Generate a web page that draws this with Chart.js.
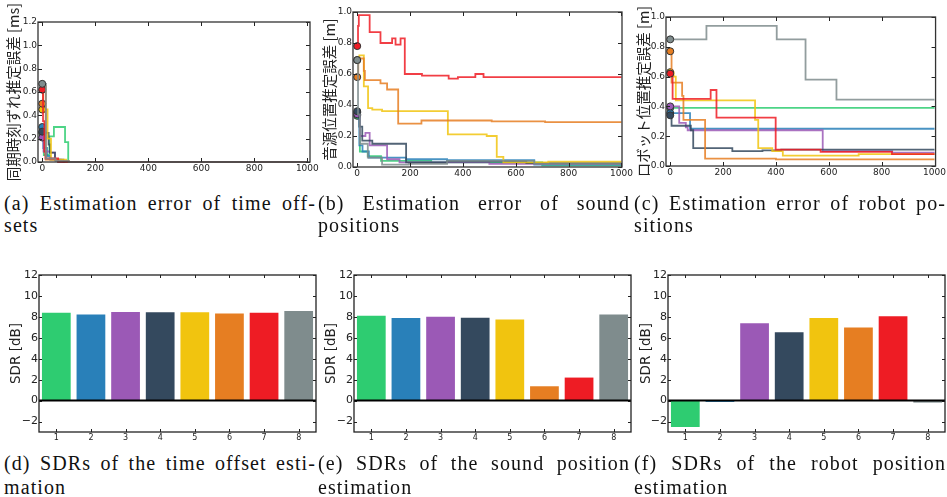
<!DOCTYPE html>
<html>
<head>
<meta charset="utf-8">
<script src="https://cdn.jsdelivr.net/npm/chart.js@4"></script>
<style>
  body { margin: 0; background: #fff; width: 947px; height: 497px; overflow: hidden; position: relative; }
  canvas { position: absolute; }
  .cap { position: absolute; font-family: "Liberation Serif", "DejaVu Serif", serif; font-size: 20px; letter-spacing: 1.1px; color: #111; line-height: 22px; }
  .cap.l1 { width: 312px; text-align: justify; text-align-last: justify; }
  .cap.l2 { white-space: nowrap; }
</style>
</head>
<body>
<canvas id="chartA" width="330" height="185" style="left:0;top:0"></canvas>
<canvas id="chartB" width="330" height="185" style="left:315px;top:0"></canvas>
<canvas id="chartC" width="317" height="185" style="left:630px;top:0"></canvas>
<canvas id="chartD" width="320" height="185" style="left:0;top:260px"></canvas>
<canvas id="chartE" width="320" height="185" style="left:315px;top:260px"></canvas>
<canvas id="chartF" width="317" height="185" style="left:630px;top:260px"></canvas>

<div class="cap l1" style="left:4px;top:192px">(a) Estimation error of time off-</div>
<div class="cap l2" style="left:4px;top:214px">sets</div>
<div class="cap l1" style="left:318px;top:192px">(b) Estimation error of sound</div>
<div class="cap l2" style="left:318px;top:214px">positions</div>
<div class="cap l1" style="left:634px;top:192px">(c) Estimation error of robot po-</div>
<div class="cap l2" style="left:634px;top:214px">sitions</div>
<div class="cap l1" style="left:4px;top:452px">(d) SDRs of the time offset esti-</div>
<div class="cap l2" style="left:4px;top:476px">mation</div>
<div class="cap l1" style="left:318px;top:452px">(e) SDRs of the sound position</div>
<div class="cap l2" style="left:318px;top:476px">estimation</div>
<div class="cap l1" style="left:634px;top:452px">(f) SDRs of the robot position</div>
<div class="cap l2" style="left:634px;top:476px">estimation</div>

<script>
// --- Data ---
const SERIES_COLORS = ['#2ecc71', '#2980b9', '#9b59b6', '#34495e', '#f1c40f', '#e67e22', '#ee1c24', '#7f8c8d'];
const BAR_LABELS = ['1', '2', '3', '4', '5', '6', '7', '8'];
const ITER_TICKS = [0, 200, 400, 600, 800, 1000];

const sdrTimeOffset = [8.39, 8.23, 8.46, 8.43, 8.43, 8.33, 8.39, 8.55];
const sdrSoundPos = [8.10, 7.88, 8.01, 7.92, 7.76, 1.37, 2.20, 8.23];
const sdrRobotPos = [-2.52, -0.13, 7.40, 6.54, 7.88, 6.99, 8.07, -0.19];

// step series: [iteration where the value changes, new value]
const offsetGreen = [[0, 0.25], [6, 0.06], [27, 0.22], [44, 0.30], [86, 0.17], [98, 0.0], [1000, 0.0]];
const offsetBlue = [[0, 0.30], [4, 0.12], [18, 0.05], [30, 0.02], [60, 0.0], [1000, 0.0]];
const offsetPurple = [[0, 0.21], [5, 0.09], [29, 0.08], [48, 0.02], [70, 0.0], [1000, 0.0]];
const offsetDark = [[0, 0.26], [12, 0.25], [24, 0.15], [29, 0.08], [48, 0.02], [80, 0.0], [1000, 0.0]];
const offsetYellow = [[0, 0.45], [20, 0.20], [33, 0.02], [90, 0.0], [1000, 0.0]];
const offsetOrange = [[0, 0.50], [3, 0.65], [13, 0.02], [60, 0.01], [100, 0.0], [1000, 0.0]];
const offsetRed = [[0, 0.62], [3, 0.35], [8, 0.09], [12, 0.03], [60, 0.0], [1000, 0.0]];
const offsetGray = [[0, 0.67], [14, 0.03], [50, 0.01], [100, 0.0], [1000, 0.0]];

const soundGreen = [[0, 0.33], [10, 0.10], [40, 0.07], [90, 0.04], [280, 0.03], [700, 0.01], [1000, 0.01]];
const soundBlue = [[0, 0.35], [8, 0.14], [20, 0.10], [44, 0.06], [185, 0.05], [340, 0.045], [670, 0.015], [1000, 0.015]];
const soundPurple = [[0, 0.34], [10, 0.20], [31, 0.22], [47, 0.14], [113, 0.05], [160, 0.03], [500, 0.02], [1000, 0.02]];
const soundDark = [[0, 0.36], [8, 0.26], [19, 0.17], [57, 0.15], [185, 0.03], [340, 0.035], [640, 0.025], [1000, 0.025]];
const soundYellow = [[0, 0.69], [8, 0.72], [25, 0.52], [41, 0.38], [57, 0.37], [94, 0.36], [343, 0.21], [490, 0.20], [528, 0.065], [553, 0.03], [723, 0.035], [1000, 0.035]];
const soundOrange = [[0, 0.58], [4, 0.70], [25, 0.62], [29, 0.56], [88, 0.54], [113, 0.50], [155, 0.28], [243, 0.30], [509, 0.295], [711, 0.29], [1000, 0.29]];
const soundRed = [[0, 0.78], [3, 0.91], [6, 0.98], [47, 0.87], [88, 0.80], [132, 0.83], [145, 0.79], [164, 0.83], [180, 0.60], [245, 0.59], [346, 0.57], [381, 0.58], [447, 0.60], [478, 0.58], [1000, 0.58]];
const soundGray = [[0, 0.69], [3, 0.34], [10, 0.15], [40, 0.06], [94, 0.015], [195, 0.02], [340, 0.04], [670, 0.02], [1000, 0.02]];

const robotGreen = [[0, 0.39], [1000, 0.39]];
const robotBlue = [[0, 0.355], [75, 0.25], [1000, 0.25]];
const robotPurple = [[0, 0.40], [34, 0.29], [59, 0.26], [66, 0.24], [577, 0.10], [840, 0.09], [1000, 0.09]];
const robotDark = [[0, 0.34], [5, 0.27], [78, 0.24], [87, 0.12], [235, 0.10], [349, 0.105], [420, 0.11], [1000, 0.11]];
const robotYellow = [[0, 0.63], [13, 0.60], [21, 0.44], [321, 0.31], [333, 0.12], [386, 0.10], [426, 0.07], [713, 0.08], [1000, 0.08]];
const robotOrange = [[0, 0.77], [5, 0.56], [45, 0.47], [50, 0.31], [132, 0.05], [400, 0.045], [1000, 0.045]];
const robotRed = [[0, 0.62], [9, 0.45], [153, 0.51], [175, 0.325], [399, 0.11], [569, 0.095], [839, 0.08], [1000, 0.08]];
const robotGray = [[0, 0.85], [137, 0.94], [403, 0.85], [512, 0.58], [629, 0.445], [1000, 0.445]];

const offsetSeries = [offsetGreen, offsetBlue, offsetPurple, offsetDark, offsetYellow, offsetOrange, offsetRed, offsetGray];
const soundSeries = [soundGreen, soundBlue, soundPurple, soundDark, soundYellow, soundOrange, soundRed, soundGray];
const robotSeries = [robotGreen, robotBlue, robotPurple, robotDark, robotYellow, robotOrange, robotRed, robotGray];

// --- Helpers ---
function withAlpha(hex, a) {
    const n = parseInt(hex.slice(1), 16);
    return `rgba(${n >> 16},${(n >> 8) & 255},${n & 255},${a})`;
}

// frame + inward tick marks like the classic matplotlib look
const frameTicks = {
    id: 'frameTicks',
    afterDatasetsDraw(chart, args, opts) {
        const { ctx, chartArea: a } = chart;
        const { x, y } = chart.scales;
        const len = opts.len || 4;
        ctx.save();
        ctx.strokeStyle = '#222';
        ctx.lineWidth = 1;
        ctx.beginPath();
        x.ticks.forEach((t, i) => {
            const px = Math.round(x.getPixelForTick(i)) + 0.5;
            ctx.moveTo(px, a.bottom); ctx.lineTo(px, a.bottom - len);
            ctx.moveTo(px, a.top); ctx.lineTo(px, a.top + len);
        });
        y.ticks.forEach((t, i) => {
            const py = Math.round(y.getPixelForTick(i)) + 0.5;
            ctx.moveTo(a.left, py); ctx.lineTo(a.left + len, py);
            ctx.moveTo(a.right, py); ctx.lineTo(a.right - len, py);
        });
        ctx.stroke();
        if (opts.zero) {
            const py = y.getPixelForValue(0);
            ctx.strokeStyle = '#000';
            ctx.lineWidth = 2;
            ctx.beginPath(); ctx.moveTo(a.left, py); ctx.lineTo(a.right, py); ctx.stroke();
        }
        ctx.strokeStyle = opts.frameColor || '#333';
        ctx.lineWidth = 1.3;
        ctx.strokeRect(a.left, a.top, a.right - a.left, a.bottom - a.top);
        ctx.restore();
    }
};
Chart.register(frameTicks);

const TICK_FONT = { family: 'DejaVu Sans', size: 9 };

function stepDatasets(series) {
    return series.map((pts, i) => ({
        data: pts.map(([x, y]) => ({ x, y })),
        order: series.length - i, // later series drawn on top, as in the original
        stepped: 'before',
        borderColor: withAlpha(SERIES_COLORS[i], 0.85),
        borderWidth: 1.8,
        pointRadius: c => c.dataIndex === 0 ? 3.5 : 0,
        pointHoverRadius: 0,
        pointBackgroundColor: SERIES_COLORS[i],
        pointBorderColor: '#333',
        pointBorderWidth: 1,
        clip: false
    }));
}

function renderStepChart(id, series, cfg) {
    new Chart(document.getElementById(id), {
        type: 'line',
        data: { datasets: stepDatasets(series) },
        options: {
            responsive: false,
            animation: false,
            events: [],
            layout: { padding: { top: cfg.top, right: cfg.right, left: 0, bottom: 0 } },
            plugins: { legend: { display: false }, tooltip: { enabled: false }, frameTicks: { len: 4 } },
            scales: {
                x: {
                    type: 'linear', min: cfg.xMin, max: cfg.xMax,
                    afterFit: s => { s.height = cfg.xH; },
                    afterBuildTicks: s => { s.ticks = ITER_TICKS.map(v => ({ value: v })); },
                    grid: { display: false, drawTicks: false }, border: { display: false },
                    ticks: { padding: 1, maxRotation: 0, autoSkip: false, font: TICK_FONT, color: '#222', callback: v => String(v) }
                },
                y: {
                    min: 0, max: cfg.yMax,
                    afterFit: s => { s.width = cfg.yW; },
                    grid: { display: false, drawTicks: false }, border: { display: false },
                    ticks: { stepSize: 0.2, padding: 1, font: TICK_FONT, color: '#222', callback: v => v.toFixed(1) },
                    title: {
                        display: true, text: cfg.title, color: '#222',
                        font: { family: 'Noto Sans CJK JP', size: 14.5 },
                        padding: { top: cfg.titlePad, bottom: 0 }
                    }
                }
            }
        }
    });
}

function renderSdrChart(id, values, cfg) {
    new Chart(document.getElementById(id), {
        type: 'bar',
        data: {
            labels: BAR_LABELS,
            datasets: [{ data: values, backgroundColor: SERIES_COLORS, borderWidth: 0, barPercentage: 0.83, categoryPercentage: 1.0 }]
        },
        options: {
            responsive: false,
            animation: false,
            events: [],
            layout: { padding: { top: 15, right: cfg.right, left: 0, bottom: 0 } },
            plugins: { legend: { display: false }, tooltip: { enabled: false }, frameTicks: { len: 3, zero: true, frameColor: '#222' } },
            scales: {
                x: {
                    afterFit: s => { s.height = 13; },
                    grid: { display: false, drawTicks: false }, border: { display: false },
                    ticks: { padding: 1, font: { family: 'DejaVu Sans', size: 8 }, color: '#222' }
                },
                y: {
                    min: -3, max: 12,
                    afterFit: s => { s.width = cfg.yW; },
                    grid: { display: false, drawTicks: false }, border: { display: false },
                    ticks: { stepSize: 2, includeBounds: false, padding: 1, font: { family: 'DejaVu Sans', size: 11 }, color: '#222',
                             callback: v => v < 0 ? '\u2212' + Math.abs(v) : String(v) },
                    title: {
                        display: true, text: 'SDR [dB]', color: '#222',
                        font: { family: 'DejaVu Sans', size: 13.5 },
                        padding: { top: 8, bottom: 0 }
                    }
                }
            }
        }
    });
}

// --- Main ---
renderStepChart('chartA', offsetSeries, { top: 22, right: 20, xH: 23, yW: 38, xMin: -16, xMax: 1010, yMax: 1.2, title: '同期時刻ずれ推定誤差 [ms]', titlePad: 5 });
renderStepChart('chartB', soundSeries, { top: 12, right: 23, xH: 18, yW: 38, xMin: -16, xMax: 1002, yMax: 1.0, title: '音源位置推定誤差 [m]', titlePad: 6 });
renderStepChart('chartC', robotSeries, { top: 17, right: 10, xH: 19, yW: 36, xMin: -16, xMax: 1004, yMax: 1.0, title: 'ロボット位置推定誤差 [m]', titlePad: 5 });

renderSdrChart('chartD', sdrTimeOffset, { right: 4, yW: 39 });
renderSdrChart('chartE', sdrSoundPos, { right: 4, yW: 39 });
renderSdrChart('chartF', sdrRobotPos, { right: 2, yW: 38 });
</script>
</body>
</html>
